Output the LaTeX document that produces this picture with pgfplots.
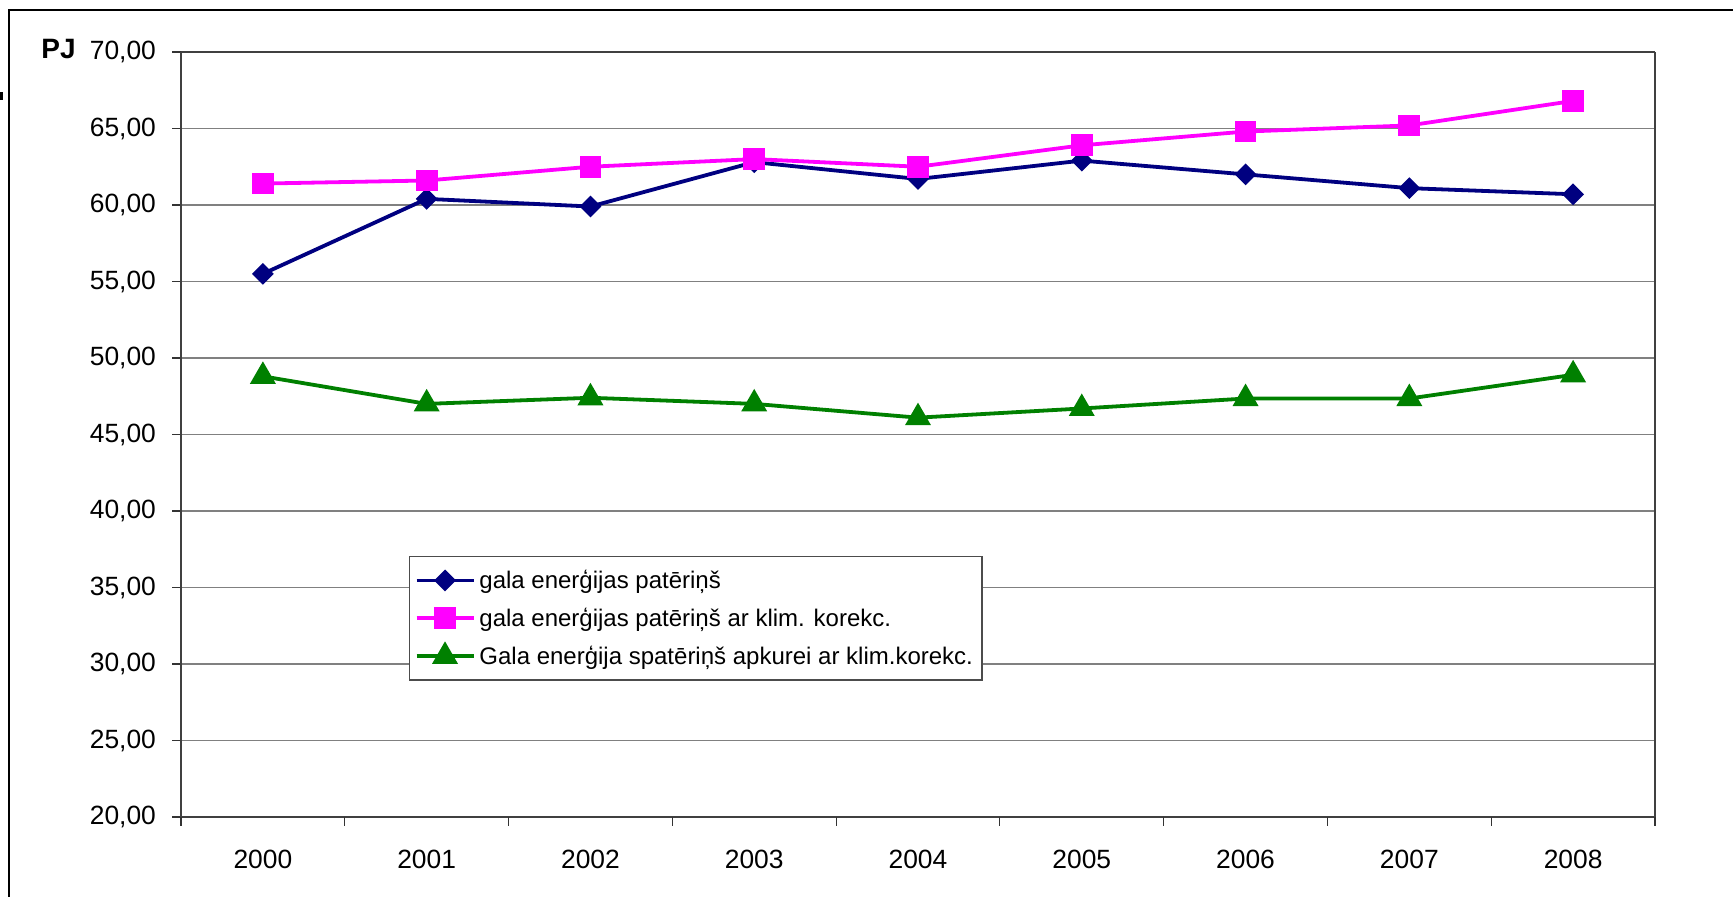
\documentclass[border=0pt]{standalone}
\usepackage{pgfplots}
\pgfplotsset{compat=1.18}
\usepackage{fontspec}
\setmainfont{Liberation Sans}
\definecolor{cblue}{HTML}{000080}
\definecolor{cpink}{HTML}{FF00FF}
\definecolor{cgreen}{HTML}{008000}
\begin{document}
\begin{tikzpicture}[x=1pt,y=1pt]
\clip (0,0) rectangle (866.5,448.5);
\fill[white] (0,0) rectangle (866.5,448.5);
\draw[line width=1pt] (4.5,-20) rectangle (900,443.5);
\fill[black] (0,398.5) rectangle (1.7,402.5);
\node[font=\fontsize{14}{16}\selectfont\bfseries, inner sep=0pt] at (29.3,424) {PJ};
\begin{axis}[
  at={(90.5pt,40pt)}, anchor=south west,
  scale only axis, width=737pt, height=382.5pt,
  xmin=-0.5, xmax=8.5, ymin=20, ymax=70,
  xtick={0,1,2,3,4,5,6,7,8},
  xticklabels={2000,2001,2002,2003,2004,2005,2006,2007,2008},
  ytick={20,25,...,70},
  major x tick style={draw=none},
  extra x ticks={-0.5,0.5,1.5,2.5,3.5,4.5,5.5,6.5,7.5,8.5},
  extra x tick labels={},
  extra x tick style={tick align=outside, major tick length=4.5pt, grid=none, major x tick style={draw=black!80, line width=0.6pt}},
  tick align=outside, major tick length=4.5pt,
  ytick style={draw=black!80, line width=0.6pt},
  ymajorgrids, grid style={draw=black!50, line width=0.75pt},
  axis line style={draw=black!50, line width=0.75pt},
  separate axis lines,
  x axis line style={draw=black!75, line width=1pt},
  y axis line style={draw=black!75, line width=1pt},
  xtick pos=bottom, ytick pos=left,
  tick label style={font=\fontsize{13.2}{16}\selectfont},
  xticklabel style={yshift=-8.3pt},
  yticklabel style={xshift=-4.5pt},
  yticklabel={\pgfmathprintnumber[fixed, fixed zerofill, precision=2, use comma, assume math mode=true]{\tick}},
  /pgf/number format/assume math mode=true,
  legend style={at={(0.1547,0.341)}, anchor=north west, draw=black!70, line width=0.6pt,
    font=\fontsize{12}{14}\selectfont, row sep=4.3pt, inner xsep=2.5pt, inner ysep=4.5pt},
  legend cell align=left,
  legend image code/.code={\draw[#1, mark=none] (0pt,0pt) -- (28.5pt,0pt);
     \draw[#1, only marks] plot coordinates {(14.25pt,0pt)};},
]
\addplot[cblue, line width=1.9pt, mark=square*, mark size=2.9pt, mark options={rotate=45, solid}]
  coordinates {(0,55.5) (1,60.4) (2,59.9) (3,62.8) (4,61.7) (5,62.9) (6,62.0) (7,61.1) (8,60.7)};
\addlegendentry{gala enerģijas patēriņš}
\addplot[cpink, line width=1.9pt, mark=square*, mark size=4.5pt, mark options={solid}]
  coordinates {(0,61.4) (1,61.6) (2,62.5) (3,63.0) (4,62.5) (5,63.9) (6,64.8) (7,65.2) (8,66.8)};
\addlegendentry{gala enerģijas patēriņš ar klim. korekc.}
\addplot[cgreen, line width=1.9pt, mark=triangle*, mark size=5.6pt, mark options={solid}]
  coordinates {(0,48.8) (1,47.0) (2,47.4) (3,47.0) (4,46.1) (5,46.7) (6,47.35) (7,47.35) (8,48.9)};
\addlegendentry{Gala enerģija spatēriņš apkurei ar klim.korekc.}
\end{axis}
\end{tikzpicture}
\end{document}
